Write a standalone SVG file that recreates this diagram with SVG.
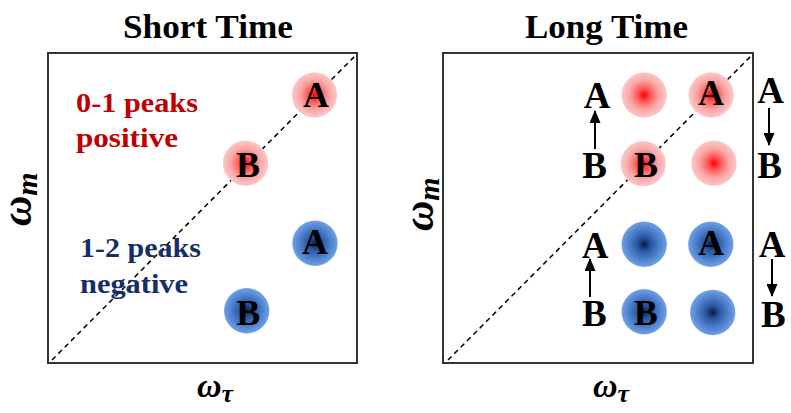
<svg xmlns="http://www.w3.org/2000/svg" width="791" height="413" viewBox="0 0 791 413">
<defs>
<radialGradient id="gRed" cx="0.5" cy="0.5" r="0.5">
<stop offset="0" stop-color="#ff0000"/>
<stop offset="0.3" stop-color="#ff5a5a"/>
<stop offset="0.65" stop-color="#fba5a5"/>
<stop offset="0.95" stop-color="#fac4c4"/>
<stop offset="1" stop-color="#fbd0d0"/>
</radialGradient>
<radialGradient id="gBlue" cx="0.5" cy="0.5" r="0.5">
<stop offset="0" stop-color="#081a48"/>
<stop offset="0.3" stop-color="#2a56a0"/>
<stop offset="0.7" stop-color="#4f82cf"/>
<stop offset="0.95" stop-color="#6b9be0"/>
<stop offset="1" stop-color="#80aae6"/>
</radialGradient>
<marker id="ah" markerWidth="13" markerHeight="11" refX="12" refY="5.5" orient="auto" markerUnits="userSpaceOnUse">
<path d="M0,0 L13,5.5 L0,11 Z" fill="#000"/>
</marker>
<style>
.frame{fill:#fff;stroke:#333;stroke-width:2}
.diag{stroke:#000;stroke-width:1.5;stroke-dasharray:5,4;fill:none}
.title{font-family:"Liberation Serif",serif;font-weight:bold;font-size:33px;fill:#000}
.lbl{font-family:"Liberation Serif",serif;font-weight:bold;font-size:36px;fill:#000;text-anchor:middle}
.out{font-family:"Liberation Serif",serif;font-weight:bold;font-size:37px;fill:#000;text-anchor:middle}
.note{font-family:"Liberation Serif",serif;font-weight:bold;font-size:28px}
.red{fill:#c00000}
.blue{fill:#142d6b}
.ax{font-family:"Liberation Serif",serif;font-weight:bold;font-style:italic;fill:#000}
.arr{stroke:#000;stroke-width:2;fill:none;marker-end:url(#ah)}
</style>
</defs>

<g id="panel-short">
<rect class="frame" x="48" y="53" width="309" height="310"/>
<text class="title" x="123" y="38" textLength="170" lengthAdjust="spacingAndGlyphs">Short Time</text>
<text class="ax" transform="translate(31,226) rotate(-90)" font-size="42">ω<tspan font-size="30" dy="6">m</tspan></text>
<text class="ax" x="197" y="397" font-size="34">ω<tspan font-size="26" dy="5">τ</tspan></text>
</g>

<g id="panel-long">
<rect class="frame" x="443" y="53" width="310" height="310"/>
<text class="title" x="525" y="38" textLength="163" lengthAdjust="spacingAndGlyphs">Long Time</text>
<text class="ax" transform="translate(433,231) rotate(-90)" font-size="42">ω<tspan font-size="30" dy="6">m</tspan></text>
<text class="ax" x="593" y="397" font-size="34">ω<tspan font-size="26" dy="5">τ</tspan></text>
</g>

<g id="connectors">
<line class="diag" x1="52" y1="360" x2="356" y2="55"/>
<line class="diag" x1="448" y1="360" x2="752" y2="55"/>
<line class="arr" x1="595" y1="149" x2="595" y2="111"/>
<line class="arr" x1="590" y1="297" x2="590" y2="259"/>
<line class="arr" x1="769" y1="108" x2="769" y2="145"/>
<line class="arr" x1="772" y1="259" x2="772" y2="296"/>
</g>

<g id="notes">
<text class="note red" x="76" y="112" textLength="122" lengthAdjust="spacingAndGlyphs">0-1 peaks</text>
<text class="note red" x="76" y="147" textLength="102" lengthAdjust="spacingAndGlyphs">positive</text>
<text class="note blue" x="80" y="257" textLength="121" lengthAdjust="spacingAndGlyphs">1-2 peaks</text>
<text class="note blue" x="80" y="293" textLength="108" lengthAdjust="spacingAndGlyphs">negative</text>
</g>

<g id="short-red-A"><circle cx="314.5" cy="95" r="22.7" fill="url(#gRed)"/><text class="lbl" x="316" y="106.5">A</text></g>
<g id="short-red-B"><circle cx="245.5" cy="163.3" r="22.7" fill="url(#gRed)"/><text class="lbl" x="248" y="176.5">B</text></g>
<g id="short-blue-A"><circle cx="315" cy="243.3" r="22.7" fill="url(#gBlue)"/><text class="lbl" x="315" y="254">A</text></g>
<g id="short-blue-B"><circle cx="246.7" cy="310.8" r="22.7" fill="url(#gBlue)"/><text class="lbl" x="248.3" y="325">B</text></g>

<g id="long-red-1"><circle cx="644.2" cy="95" r="22.7" fill="url(#gRed)"/></g>
<g id="long-red-A"><circle cx="711.2" cy="95" r="22.7" fill="url(#gRed)"/><text class="lbl" x="711" y="105">A</text></g>
<g id="long-red-B"><circle cx="643.3" cy="163.7" r="22.7" fill="url(#gRed)"/><text class="lbl" x="646" y="176.7">B</text></g>
<g id="long-red-4"><circle cx="714" cy="163.3" r="22.7" fill="url(#gRed)"/></g>
<g id="long-blue-1"><circle cx="644.2" cy="244.2" r="22.7" fill="url(#gBlue)"/></g>
<g id="long-blue-A"><circle cx="710.8" cy="244.2" r="22.7" fill="url(#gBlue)"/><text class="lbl" x="711" y="255">A</text></g>
<g id="long-blue-B"><circle cx="644.2" cy="311.7" r="22.7" fill="url(#gBlue)"/><text class="lbl" x="645.7" y="325">B</text></g>
<g id="long-blue-4"><circle cx="712.7" cy="312.5" r="22.7" fill="url(#gBlue)"/></g>

<g id="left-top-AB"><text class="out" x="597" y="108.3">A</text><text class="out" x="594.7" y="178.3">B</text></g>
<g id="left-bottom-AB"><text class="out" x="595" y="258.3">A</text><text class="out" x="594.3" y="326">B</text></g>
<g id="right-top-AB"><text class="out" x="770.7" y="103.3">A</text><text class="out" x="769.5" y="178.3">B</text></g>
<g id="right-bottom-AB"><text class="out" x="772.2" y="256.7">A</text><text class="out" x="773.3" y="326.7">B</text></g>
</svg>
